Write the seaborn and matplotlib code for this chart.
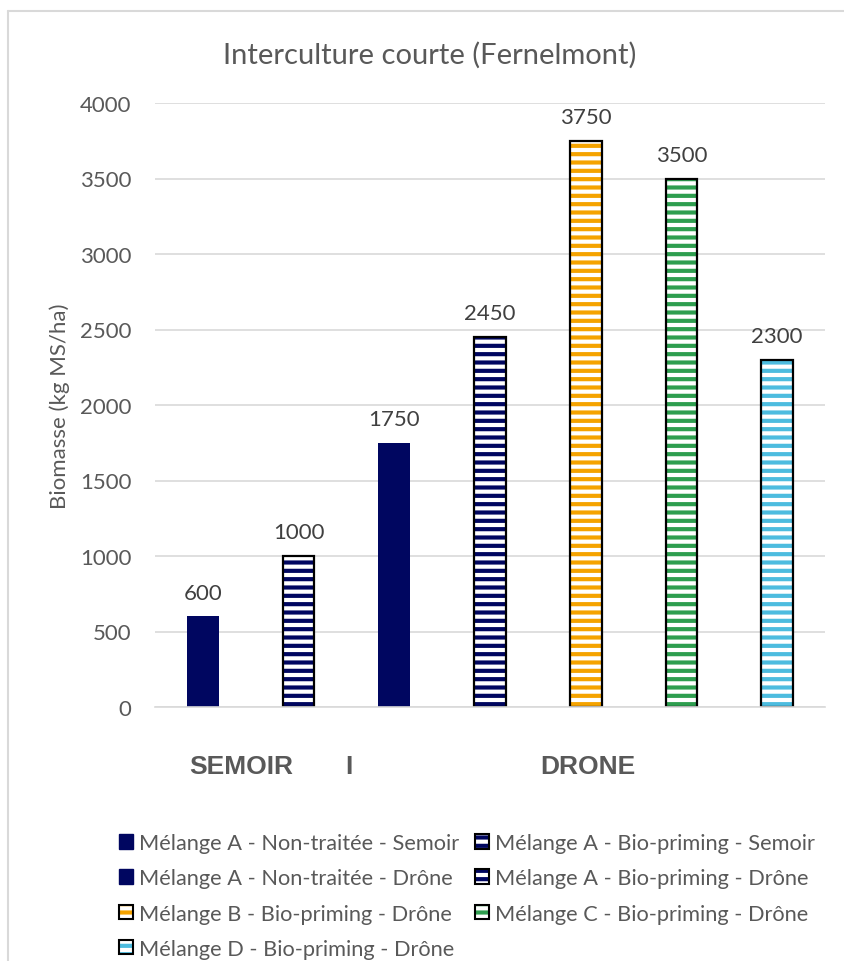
import matplotlib
matplotlib.use("Agg")
import matplotlib.pyplot as plt
from matplotlib.patches import Patch, Rectangle
from matplotlib.lines import Line2D
from matplotlib.legend_handler import HandlerTuple
import seaborn as sns
import pandas as pd

# Data
series = [
    "Mélange A - Non-traitée - Semoir",
    "Mélange A - Bio-priming - Semoir",
    "Mélange A - Non-traitée - Drône",
    "Mélange A - Bio-priming - Drône",
    "Mélange B - Bio-priming - Drône",
    "Mélange C - Bio-priming - Drône",
    "Mélange D - Bio-priming - Drône",
]
biomasse = [600, 1000, 1750, 2450, 3750, 3500, 2300]
colors = ["#000660", "#000660", "#000660", "#000660", "#F5A300", "#2E9E4F", "#4DBCDF"]
hatched = [False, True, False, True, True, True, True]
group_labels = ["SEMOIR", "I", "DRONE"]
group_pos = [0.40, 1.53, 4.02]

sns.set_theme(style="white")
plt.rcParams["font.family"] = ["Lato", "DejaVu Sans"]
plt.rcParams["hatch.linewidth"] = 3.0

TXT = "#595959"

df = pd.DataFrame({"serie": series, "biomasse": biomasse})

fig = plt.figure(figsize=(8.44, 9.62), dpi=100)
ax = fig.add_axes([155 / 844, 1 - 708 / 962, 670 / 844, (708 - 104) / 962])

sns.barplot(data=df, x="serie", y="biomasse", hue="serie", palette=colors,
            order=series, hue_order=series, legend=False, width=0.33,
            saturation=1, ax=ax)

bars = [p for p in ax.patches if p.get_height() > 0]
bars.sort(key=lambda p: p.get_x())
for p, c, h in zip(bars, colors, hatched):
    if h:
        p.set_facecolor("white")
        p.set_edgecolor(c)
        p.set_hatch("--")
        p.set_linewidth(0)
        ax.add_patch(Rectangle(p.get_xy(), p.get_width(), p.get_height(),
                               fill=False, edgecolor="black", linewidth=1.6,
                               zorder=p.get_zorder() + 0.1))
    else:
        p.set_facecolor(c)
        p.set_edgecolor(c)
        p.set_linewidth(0)

for cont in ax.containers:
    ax.bar_label(cont, fmt="%d", padding=10, fontsize=16, color="#404040")

ax.set_ylim(0, 4000)
ax.set_yticks(range(0, 4001, 500))
ax.tick_params(axis="y", labelsize=16, labelcolor=TXT, length=0, pad=17)
ax.set_xlim(-0.5, len(series) - 0.5)
ax.set_xticks(group_pos)
ax.set_xticklabels(group_labels, fontsize=19, fontweight="bold", color=TXT,
                   family=["Liberation Sans", "DejaVu Sans"])
ax.tick_params(axis="x", length=0, pad=34)
ax.set_xlabel("")
ax.set_ylabel("Biomasse (kg MS/ha)", fontsize=16, color=TXT)
ax.yaxis.set_label_coords(-0.127, 0.5)
ax.yaxis.grid(True, color="#d9d9d9", linewidth=1.2)
ax.set_axisbelow(True)
for s in ["top", "right", "left"]:
    ax.spines[s].set_visible(False)
ax.spines["bottom"].set_color("#d9d9d9")
ax.spines["bottom"].set_linewidth(1.2)

fig.text(430 / 844, 1 - 55 / 962, "Interculture courte (Fernelmont)",
         ha="center", va="center", fontsize=21, color=TXT)

# Legend: handles follow the bar styles
handles = []
for c, h in zip(colors, hatched):
    if h:
        handles.append((Patch(facecolor="white", edgecolor=c, hatch="--", linewidth=0),
                        Patch(fill=False, edgecolor="black", linewidth=1.5)))
    else:
        handles.append(Patch(facecolor=c, edgecolor=c))
order = [0, 2, 4, 6, 1, 3, 5]
leg = fig.legend([handles[i] for i in order], [series[i] for i in order],
                 ncol=2, loc="upper left", bbox_to_anchor=(119 / 844, 1 - 834 / 962),
                 frameon=False, fontsize=15.7, handlelength=0.65, handleheight=0.65,
                 handletextpad=0.28, columnspacing=0.7, labelspacing=0.7,
                 handler_map={tuple: HandlerTuple(ndivide=1, pad=0)},
                 borderaxespad=0, borderpad=0)
for t in leg.get_texts():
    t.set_color(TXT)

# Chart area frame
fig.add_artist(Line2D([8 / 844, 8 / 844], [0, 1 - 12 / 962], color="#d9d9d9",
                      linewidth=1.5, transform=fig.transFigure))
fig.add_artist(Line2D([8 / 844, 1], [1 - 12 / 962, 1 - 12 / 962], color="#d9d9d9",
                      linewidth=1.5, transform=fig.transFigure))

fig.savefig("out.png", dpi=100, facecolor="white")
